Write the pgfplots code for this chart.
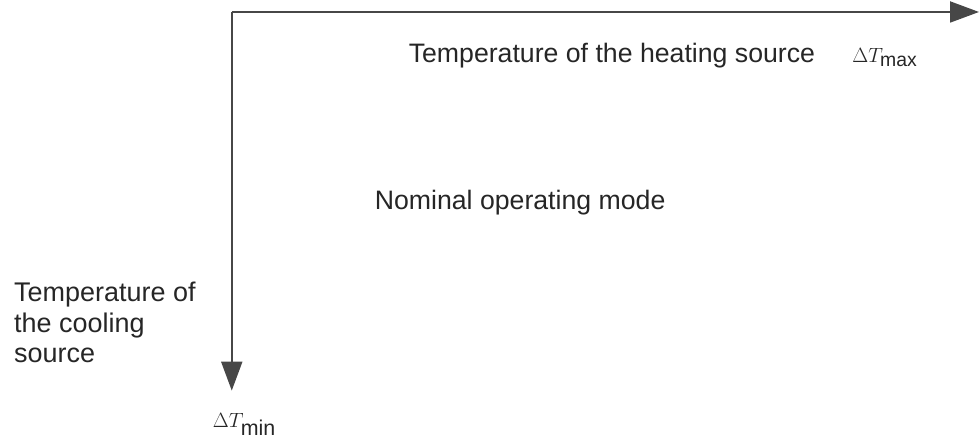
\documentclass[border=0pt]{standalone}
\usepackage{fontspec}
\setmainfont{Liberation Sans}
\usepackage{pgfplots}
\pgfplotsset{compat=1.18}
\usetikzlibrary{arrows.meta}
\definecolor{ink}{HTML}{262626}
\begin{document}
\begin{tikzpicture}
\begin{axis}[
  width=980bp, height=446bp, scale only axis,
  xmin=0, xmax=980, ymin=0, ymax=446, y dir=reverse,
  axis lines=none, clip=false,
]
\path (axis cs:0,0) rectangle (axis cs:980,446);
\addplot[ink!85, line width=2bp, -{Triangle[length=29bp,width=21bp]}] coordinates {(232,12) (980,12)};
\addplot[ink!85, line width=2bp, -{Triangle[length=29bp,width=21bp]}] coordinates {(232,12) (232,391)};
\node[anchor=base west, inner sep=0pt, font=\fontsize{26.8}{30}\selectfont, text=ink] at (axis cs:409,63) {Temperature of the heating source};
\node[anchor=base west, inner sep=0pt, font=\fontsize{19.5}{24}\selectfont, text=ink] at (axis cs:853,63) {$\Delta T_{\textrm{max}}$};
\node[anchor=base west, inner sep=0pt, font=\fontsize{26.8}{30}\selectfont, text=ink] at (axis cs:375,210) {Nominal operating mode};
\node[anchor=base west, inner sep=0pt, font=\fontsize{27.1}{30}\selectfont, text=ink] at (axis cs:14,302) {Temperature of};
\node[anchor=base west, inner sep=0pt, font=\fontsize{27.1}{30}\selectfont, text=ink] at (axis cs:14,333) {the cooling};
\node[anchor=base west, inner sep=0pt, font=\fontsize{27.1}{30}\selectfont, text=ink] at (axis cs:14,363) {source};
\node[anchor=base west, inner sep=0pt, font=\fontsize{21.5}{24}\selectfont, text=ink] at (axis cs:213,428) {$\Delta T_{\textrm{min}}$};
\end{axis}
\end{tikzpicture}
\end{document}
